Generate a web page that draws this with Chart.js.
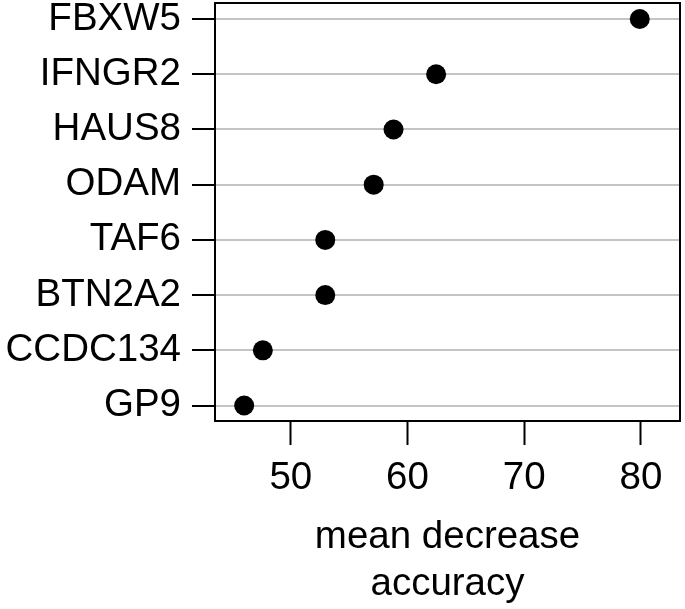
<!DOCTYPE html>
<html>
<head>
<meta charset="utf-8">
<script src="https://cdn.jsdelivr.net/npm/chart.js@4/dist/chart.umd.min.js"></script>
<style>
  html, body { margin: 0; padding: 0; background: #fff; }
  #wrap { width: 685px; height: 609px; }
</style>
</head>
<body>
<div id="wrap"><canvas id="c" width="685" height="609"></canvas></div>
<script>
const genes = ["FBXW5", "IFNGR2", "HAUS8", "ODAM", "TAF6", "BTN2A2", "CCDC134", "GP9"];
const meanDecreaseAccuracy = [79.9, 62.45, 58.8, 57.1, 52.95, 52.95, 47.6, 46.0];
const xTicks = [50, 60, 70, 80];
const xTitle = ["mean decrease", "accuracy"];

const points = genes.map((g, i) => ({ x: meanDecreaseAccuracy[i], y: i + 1 }));

const boxPlugin = {
  id: 'box',
  afterDatasetsDraw(chart) {
    const a = chart.chartArea, ctx = chart.ctx;
    ctx.save();
    ctx.strokeStyle = '#000';
    ctx.lineWidth = 2;
    ctx.strokeRect(a.left, a.top, a.right - a.left, a.bottom - a.top);
    ctx.restore();
  }
};

const FONT = "'Liberation Sans', Arial, Helvetica, sans-serif";

new Chart(document.getElementById('c'), {
  type: 'scatter',
  data: {
    datasets: [{
      data: points,
      backgroundColor: '#000',
      borderColor: '#000',
      pointRadius: 10,
      pointHoverRadius: 10,
      borderWidth: 0,
      clip: false
    }]
  },
  options: {
    responsive: false,
    animation: false,
    devicePixelRatio: 1,
    layout: { autoPadding: false, padding: { top: 3, right: 5, left: 0, bottom: 0 } },
    plugins: { legend: { display: false }, tooltip: { enabled: false } },
    scales: {
      x: {
        type: 'linear',
        min: 43.5,
        max: 83.35,
        afterBuildTicks: s => { s.ticks = xTicks.map(v => ({ value: v })); },
        afterFit: s => { s.height = 188; s.paddingLeft = 0; s.paddingRight = 0; },
        border: { display: false },
        grid: {
          drawOnChartArea: false,
          drawTicks: true,
          tickLength: 24,
          tickColor: '#000',
          tickWidth: 2
        },
        ticks: {
          color: '#000',
          padding: 10,
          maxRotation: 0,
          font: { family: FONT, size: 38.5, lineHeight: 1.2 },
          callback: v => String(v)
        },
        title: {
          display: true,
          text: xTitle,
          color: '#000',
          padding: { top: 0, bottom: 2 },
          font: { family: FONT, size: 38.5, lineHeight: 1.2 }
        }
      },
      y: {
        type: 'linear',
        reverse: true,
        min: 0.71,
        max: 8.28,
        afterBuildTicks: s => { s.ticks = genes.map((g, i) => ({ value: i + 1 })); },
        afterFit: s => { s.width = 215; s.paddingTop = 0; s.paddingBottom = 0; },
        border: { display: false },
        grid: {
          color: '#c4c4c4',
          lineWidth: 2,
          drawTicks: true,
          tickLength: 23,
          tickColor: '#000',
          tickWidth: 2
        },
        ticks: {
          color: '#000',
          padding: 11,
          autoSkip: false,
          font: { family: FONT, size: 38.5 },
          callback: v => genes[Math.round(v) - 1] || ''
        }
      }
    }
  },
  plugins: [boxPlugin]
});
</script>
</body>
</html>
